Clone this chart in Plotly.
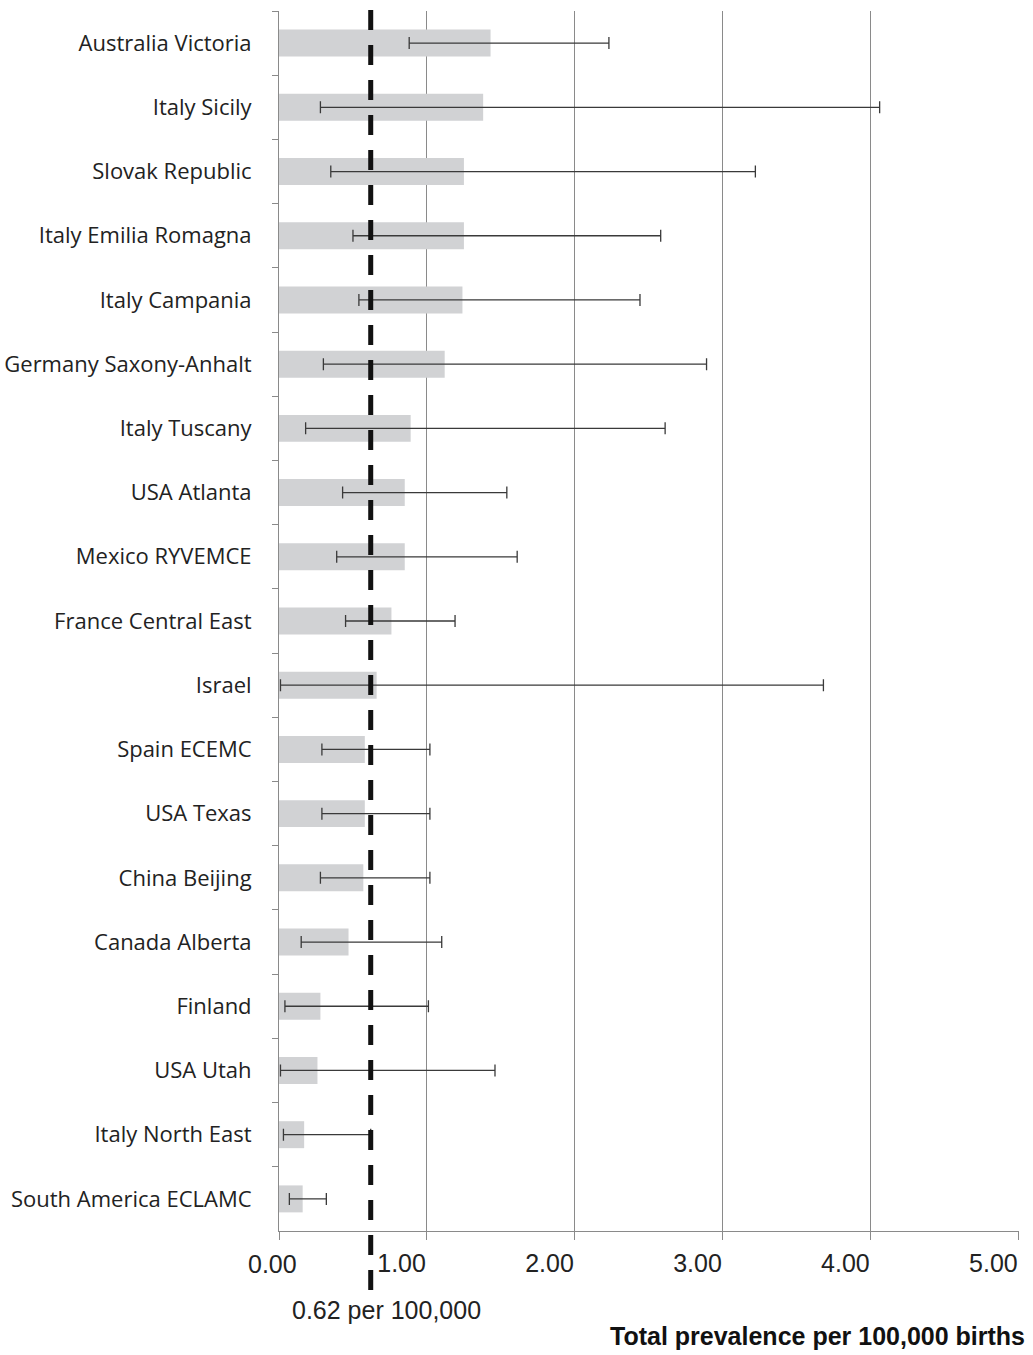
import plotly.graph_objects as go

categories = ["Australia Victoria", "Italy Sicily", "Slovak Republic", "Italy Emilia Romagna",
              "Italy Campania", "Germany Saxony-Anhalt", "Italy Tuscany", "USA Atlanta",
              "Mexico RYVEMCE", "France Central East", "Israel", "Spain ECEMC", "USA Texas",
              "China Beijing", "Canada Alberta", "Finland", "USA Utah", "Italy North East",
              "South America ECLAMC"]
prevalence = [1.43, 1.38, 1.25, 1.25, 1.24, 1.12, 0.89, 0.85, 0.85, 0.76, 0.66, 0.58, 0.58,
              0.57, 0.47, 0.28, 0.26, 0.17, 0.16]
ci_low = [0.88, 0.28, 0.35, 0.50, 0.54, 0.30, 0.18, 0.43, 0.39, 0.45, 0.01, 0.29, 0.29,
          0.28, 0.15, 0.04, 0.01, 0.03, 0.07]
ci_high = [2.23, 4.06, 3.22, 2.58, 2.44, 2.89, 2.61, 1.54, 1.61, 1.19, 3.68, 1.02, 1.02,
           1.02, 1.10, 1.01, 1.46, 0.62, 0.32]
overall = 0.62
x_ticks = [0, 1, 2, 3, 4, 5]
x_ticklabels = ["0.00", "1.00", "2.00", "3.00", "4.00", "5.00"]

err_plus = [h - v for h, v in zip(ci_high, prevalence)]
err_minus = [v - l for v, l in zip(prevalence, ci_low)]

ARIAL = "Liberation Sans, Arial, sans-serif"
T, B = 11, 124
PLOT_H = 1355 - T - B
BOTTOM = 1355 - B


def py(pixel_y):
    return -(pixel_y - BOTTOM) / PLOT_H


fig = go.Figure()
fig.add_trace(go.Bar(
    y=categories, x=prevalence, orientation="h",
    marker=dict(color="#d1d2d4", line=dict(width=0)),
    error_x=dict(type="data", symmetric=False, array=err_plus, arrayminus=err_minus,
                 color="#3a3a3a", thickness=1.3, width=6),
    showlegend=False,
))

fig.add_shape(type="line", x0=overall, x1=overall, xref="x", yref="paper",
              y0=py(1290), y1=1 + 3 / PLOT_H,
              line=dict(color="#111111", width=5, dash="20px,15px"))

# first tick label sits centred a little left of its tick, the others end at their ticks
fig.add_annotation(text=x_ticklabels[0], x=x_ticks[0], xref="x", y=py(1264), yref="paper",
                   xanchor="center", yanchor="middle", xshift=-7, showarrow=False,
                   font=dict(family=ARIAL, size=25, color="#222"))
fig.add_annotation(text="0.62 per 100,000", x=overall, xref="x",
                   y=py(1310), yref="paper",
                   xanchor="center", yanchor="middle", xshift=16, showarrow=False,
                   font=dict(family=ARIAL, size=25, color="#222"))
fig.add_annotation(text="<b>Total prevalence per 100,000 births</b>", x=1.0, xref="paper",
                   y=py(1336), yref="paper", xanchor="right",
                   yanchor="middle", xshift=8, showarrow=False,
                   font=dict(family=ARIAL, size=25, color="#111"))

fig.update_layout(
    width=1033, height=1355,
    margin=dict(l=279, r=14, t=T, b=B, autoexpand=False),
    paper_bgcolor="white", plot_bgcolor="white",
    bargap=0.58,
    xaxis=dict(range=[0, 5.002], tickvals=x_ticks, ticktext=[""] + x_ticklabels[1:],
               showgrid=True, gridcolor="#8a8a8a", gridwidth=1,
               showline=True, linecolor="#8a8a8a", linewidth=1,
               ticks="outside", ticklen=8, tickcolor="#8a8a8a",
               zeroline=False, ticklabelposition="outside left",
               ticklabelstandoff=10, automargin=False,
               tickfont=dict(family=ARIAL, size=25, color="#222")),
    yaxis=dict(autorange="reversed", type="category",
               showline=True, linecolor="#8a8a8a", linewidth=1,
               ticks="outside", ticklen=6, tickcolor="#8a8a8a", tickson="boundaries",
               showgrid=False, ticklabelstandoff=22, automargin=False,
               tickfont=dict(family="Open Sans, sans-serif", size=22, color="#222")),
)

fig.write_html("out.html")
